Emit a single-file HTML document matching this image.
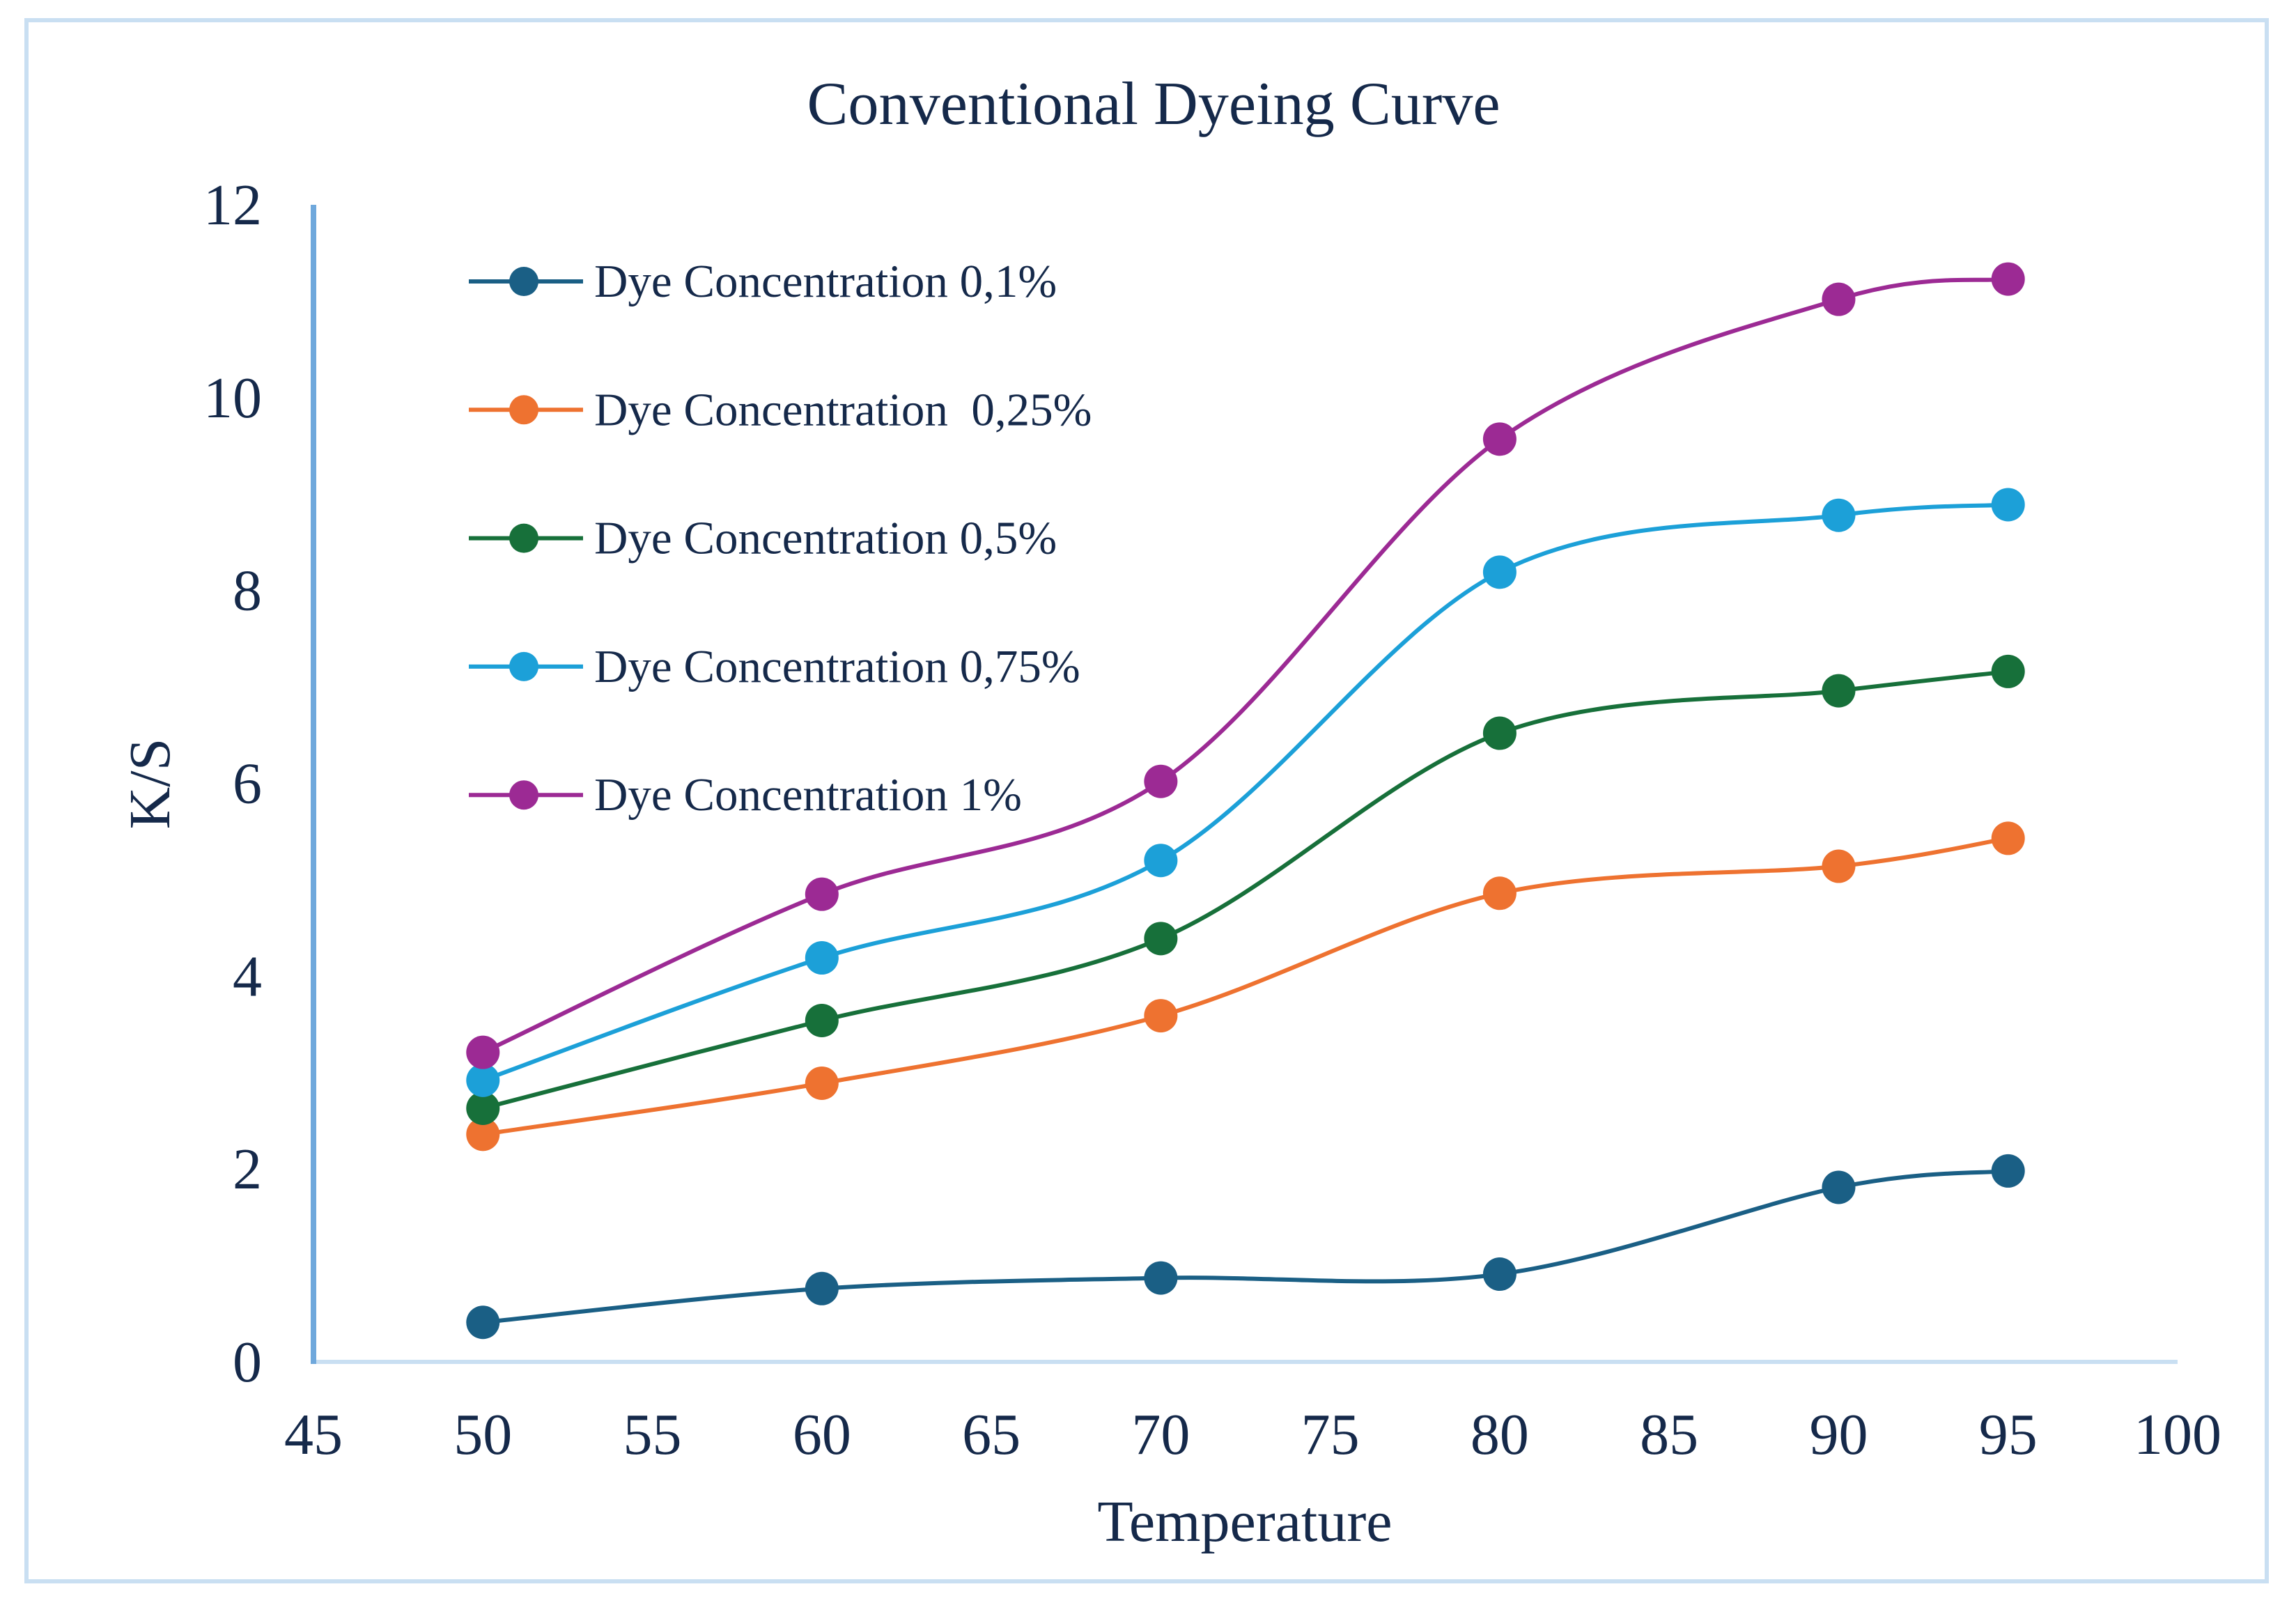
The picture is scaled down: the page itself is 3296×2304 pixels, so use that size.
<!DOCTYPE html>
<html><head><meta charset="utf-8"><style>
html,body{margin:0;padding:0;background:#fff;}
svg{display:block;}
text{font-family:"Liberation Serif",serif;fill:#15294a;}
</style></head><body>
<svg id="chart" width="3296" height="2304" viewBox="0 0 3296 2304" xmlns="http://www.w3.org/2000/svg">
<rect x="38" y="29" width="3216" height="2241" fill="#fff" stroke="#c9dff2" stroke-width="6"/>
<text x="1656" y="178" font-size="88" text-anchor="middle" textLength="995" lengthAdjust="spacingAndGlyphs">Conventional Dyeing Curve</text>
<g id="grid"></g>
<text x="0" y="0" font-size="84" text-anchor="middle" transform="translate(243,1125) rotate(-90)">K/S</text>
<text x="1787" y="2212" font-size="84" text-anchor="middle">Temperature</text>
<g id="series"></g>
<g id="legend"></g>
</svg>
<script>
const categories = [50, 60, 70, 80, 90, 95];
const seriesNames = ["Dye Concentration 0,1%", "Dye Concentration  0,25%", "Dye Concentration 0,5%", "Dye Concentration 0,75%", "Dye Concentration 1%"];
const s01 = [0.41, 0.76, 0.87, 0.91, 1.81, 1.98];
const s025 = [2.36, 2.89, 3.59, 4.86, 5.14, 5.43];
const s05 = [2.63, 3.54, 4.39, 6.52, 6.96, 7.16];
const s075 = [2.92, 4.19, 5.20, 8.19, 8.78, 8.89];
const s1 = [3.21, 4.85, 6.02, 9.57, 11.02, 11.23];
const xTicks = [45, 50, 55, 60, 65, 70, 75, 80, 85, 90, 95, 100];
const yTicks = [0, 2, 4, 6, 8, 10, 12];

const NS = "http://www.w3.org/2000/svg";
const colors = ["#1a5f85", "#ee7230", "#17703a", "#1ca0d8", "#9c2a94"];
const allSeries = [s01, s025, s05, s075, s1];
const X0 = 450, X1 = 3126, Y0 = 1955, Y1 = 294;
function xs(v){ return X0 + (v - 45) / (100 - 45) * (X1 - X0); }
function ys(v){ return Y0 - v / 12 * (Y0 - Y1); }
function mk(tag, attrs, parent){ const e = document.createElementNS(NS, tag); for (const k in attrs) e.setAttribute(k, attrs[k]); parent.appendChild(e); return e; }

const grid = document.getElementById('grid');
let ax = mk('line', {x1: X0, y1: Y0, x2: X1, y2: Y0, stroke: '#c9dff2', 'stroke-width': 6}, grid);


let ay = mk('line', {x1: X0, y1: Y1, x2: X0, y2: Y0 + 3, stroke: '#6fa8dc', 'stroke-width': 8}, grid);


yTicks.forEach(t => {
  const e = mk('text', {x: 376, y: ys(t) + 28, 'font-size': 84, 'text-anchor': 'end'}, grid);
  e.textContent = t;
  
  
});
xTicks.forEach(t => {
  const e = mk('text', {x: xs(t), y: 2087, 'font-size': 84, 'text-anchor': 'middle'}, grid);
  e.textContent = t;
  
  
});

function smoothPath(pts){
  let d = `M${pts[0][0]},${pts[0][1]}`;
  for (let i = 0; i < pts.length - 1; i++) {
    const p0 = pts[i - 1] || pts[i], p1 = pts[i], p2 = pts[i + 1], p3 = pts[i + 2] || p2;
    const c1 = [p1[0] + (p2[0] - p0[0]) / 6, p1[1] + (p2[1] - p0[1]) / 6];
    const c2 = [p2[0] - (p3[0] - p1[0]) / 6, p2[1] - (p3[1] - p1[1]) / 6];
    d += ` C${c1[0]},${c1[1]} ${c2[0]},${c2[1]} ${p2[0]},${p2[1]}`;
  }
  return d;
}
const sg = document.getElementById('series');
allSeries.forEach((vals, si) => {
  const g = mk('g', {}, sg);
  
  
  const pts = categories.map((c, i) => [xs(c), ys(vals[i])]);
  const p = mk('path', {d: smoothPath(pts), fill: 'none', stroke: colors[si], 'stroke-width': 6}, g);
  
  
  pts.forEach(pt => {
    const c = mk('circle', {cx: pt[0], cy: pt[1], r: 24, fill: colors[si]}, g);
    
    
  });
});
const lg = document.getElementById('legend');
seriesNames.forEach((n, i) => {
  const y = 404 + i * 184.3;
  const g = mk('g', {}, lg);
  
  
  mk('line', {x1: 673, y1: y, x2: 837, y2: y, stroke: colors[i], 'stroke-width': 6}, g);
  mk('circle', {cx: 752, cy: y, r: 21, fill: colors[i]}, g);
  const t = mk('text', {x: 853, y: y + 22, 'font-size': 67}, g);
  t.textContent = n;
  
  
  t.setAttribute('xml:space', 'preserve');
  t.style.whiteSpace = 'pre';
});
</script>
</body></html>
